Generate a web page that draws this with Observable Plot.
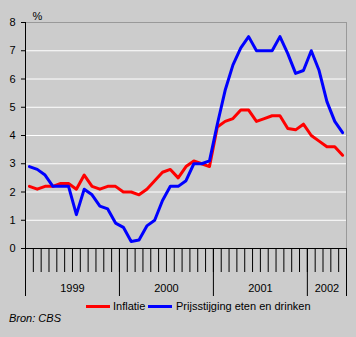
<!DOCTYPE html>
<html>
<head>
<meta charset="utf-8">
<script src="https://cdn.jsdelivr.net/npm/d3@7"></script>
<script src="https://cdn.jsdelivr.net/npm/@observablehq/plot@0.6"></script>
<style>
  html, body { margin: 0; padding: 0; background: #cccccc; }
  #wrap { position: relative; width: 356px; height: 337px; background: #cccccc; overflow: hidden;
          font-family: "Liberation Sans", Arial, sans-serif; font-size: 11px; color: #000; }
  #chart { position: absolute; left: 0; top: 0; }
  .sw { position: absolute; height: 3px; top: 305px; width: 24px; }
  .lt { position: absolute; top: 300px; line-height: 13px; white-space: nowrap; }
  #source { position: absolute; left: 9px; top: 312px; font-style: italic; line-height: 13px; }
</style>
</head>
<body>
<div id="wrap">
  <div id="chart"></div>
  <div class="sw" style="left:86px;background:#ff0000"></div>
  <div class="lt" style="left:113px">Inflatie</div>
  <div class="sw" style="left:148px;background:#0000ff"></div>
  <div class="lt" style="left:176px">Prijsstijging eten en drinken</div>
  <div id="source">Bron: CBS</div>
</div>
<script>
// Months: January 1999 through May 2002
const months = [
  "1999-01","1999-02","1999-03","1999-04","1999-05","1999-06","1999-07","1999-08","1999-09","1999-10","1999-11","1999-12",
  "2000-01","2000-02","2000-03","2000-04","2000-05","2000-06","2000-07","2000-08","2000-09","2000-10","2000-11","2000-12",
  "2001-01","2001-02","2001-03","2001-04","2001-05","2001-06","2001-07","2001-08","2001-09","2001-10","2001-11","2001-12",
  "2002-01","2002-02","2002-03","2002-04","2002-05"
];
const inflatie = [
  2.2, 2.1, 2.2, 2.2, 2.3, 2.3, 2.1, 2.6, 2.2, 2.1, 2.2, 2.2,
  2.0, 2.0, 1.9, 2.1, 2.4, 2.7, 2.8, 2.5, 2.9, 3.1, 3.0, 2.9,
  4.3, 4.5, 4.6, 4.9, 4.9, 4.5, 4.6, 4.7, 4.7, 4.25, 4.2, 4.4,
  4.0, 3.8, 3.6, 3.6, 3.3
];
const etenDrinken = [
  2.9, 2.8, 2.6, 2.2, 2.2, 2.2, 1.2, 2.1, 1.9, 1.5, 1.4, 0.9,
  0.75, 0.25, 0.3, 0.8, 1.0, 1.7, 2.2, 2.2, 2.4, 3.0, 3.0, 3.1,
  4.4, 5.6, 6.5, 7.1, 7.5, 7.0, 7.0, 7.0, 7.5, 6.9, 6.2, 6.3,
  7.0, 6.3, 5.2, 4.5, 4.1
];
const yTicks = [0, 1, 2, 3, 4, 5, 6, 7, 8];
const gridValues = [1, 2, 3, 4, 5, 6, 7];
const seriesNames = ["Inflatie", "Prijsstijging eten en drinken"];
const seriesColors = ["#ff0000", "#0000ff"];

const n = months.length;
const yearOf = months.map(m => m.slice(0, 4));
const years = Array.from(new Set(yearOf));
const yearBounds = [];
yearOf.forEach((y, i) => { if (i === 0 || y !== yearOf[i - 1]) yearBounds.push(i); });
yearBounds.push(n);
const yearCenters = years.map((y, k) => (yearBounds[k] + yearBounds[k + 1]) / 2);
const yearLabel = new Map(yearCenters.map((c, k) => [c, years[k]]));

const rows = [];
[inflatie, etenDrinken].forEach((arr, s) => arr.forEach((v, i) => rows.push({series: seriesNames[s], i: i + 0.5, v})));

const chart = Plot.plot({
  width: 356,
  height: 300,
  marginTop: 22,
  marginLeft: 25,
  marginRight: 10,
  marginBottom: 52,
  style: {background: "transparent", fontFamily: "'Liberation Sans', Arial, sans-serif", fontSize: "11px", color: "#000", overflow: "visible"},
  x: {domain: [0, n], axis: null},
  y: {domain: [0, 8], axis: null},
  color: {domain: seriesNames, range: seriesColors},
  marks: [
    Plot.ruleY(gridValues, {stroke: "#ffffff", strokeWidth: 1}),
    Plot.ruleY([8], {stroke: "#999999", strokeWidth: 1}),
    Plot.ruleX([n], {stroke: "#999999", strokeWidth: 1}),
    Plot.ruleX([0], {stroke: "#000", strokeWidth: 1}),
    Plot.ruleY([0], {stroke: "#000", strokeWidth: 1}),
    Plot.axisY(yTicks, {tickSize: 4, tickPadding: 6, label: null, stroke: "#000", strokeWidth: 1, fill: "#000"}),
    Plot.axisX(d3.range(0, n + 1), {tickSize: 24, tickFormat: () => "", label: null, stroke: "#000", strokeWidth: 1}),
    Plot.axisX(yearBounds, {tickSize: 48, tickFormat: () => "", label: null, stroke: "#000", strokeWidth: 1}),
    Plot.axisX(yearCenters, {tickSize: 0, tickPadding: 36, tickFormat: d => yearLabel.get(d), label: null, fill: "#000"}),
    Plot.text(["%"], {frameAnchor: "top-left", dx: 7, dy: -3, lineAnchor: "bottom", textAnchor: "start", fill: "#000"}),
    Plot.line(rows, {x: "i", y: "v", z: "series", stroke: "series", strokeWidth: 3, curve: "linear"})
  ]
});
document.getElementById("chart").appendChild(chart);
</script>
</body>
</html>
